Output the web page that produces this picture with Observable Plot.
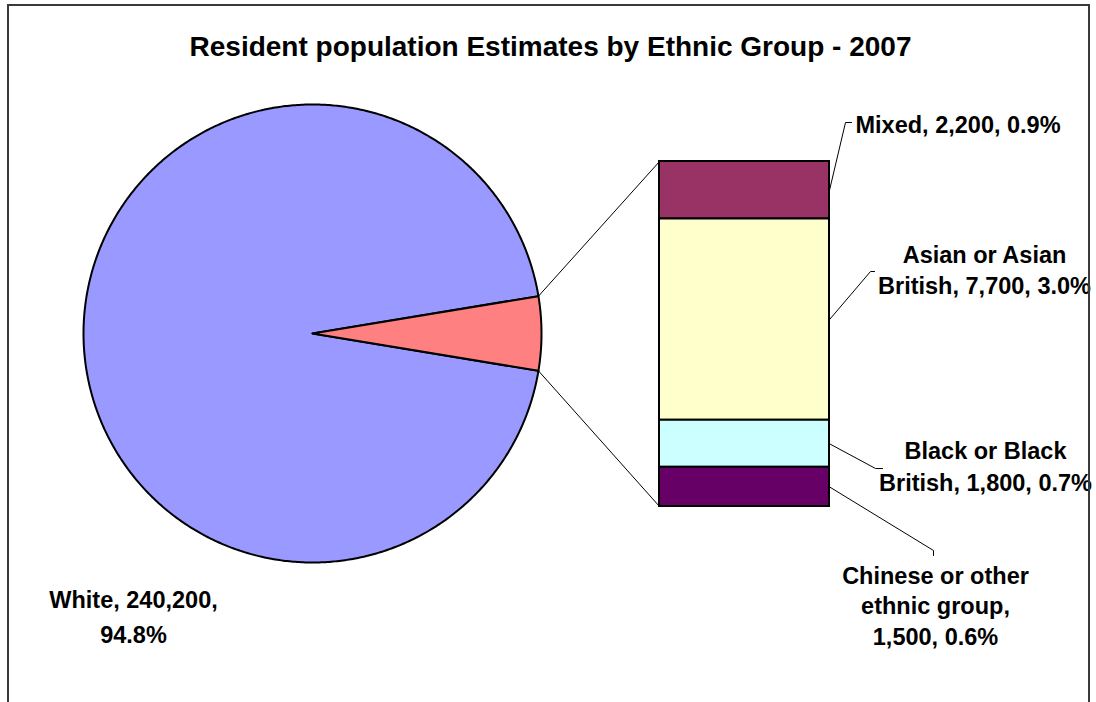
<!DOCTYPE html>
<html><head><meta charset="utf-8">
<script src="https://cdn.jsdelivr.net/npm/d3@7"></script>
<script src="https://cdn.jsdelivr.net/npm/@observablehq/plot@0.6"></script>
<style>
body{margin:0;background:#fff;}
#wrap{position:relative;width:1096px;height:702px;overflow:hidden;}
#frame{position:absolute;left:7px;top:4px;width:1079px;height:760px;border:2px solid #3a3a3a;pointer-events:none;}
#wrap svg{position:absolute;left:0;top:0;}
</style></head><body><div id="wrap"><div id="frame"></div></div>
<script>
// ---- data ----
const title = "Resident population Estimates by Ethnic Group - 2007";
const groups = ["White", "Mixed", "Asian or Asian British", "Black or Black British", "Chinese or other ethnic group"];
const population = [240200, 2200, 7700, 1800, 1500];
const percent = [94.8, 0.9, 3.0, 0.7, 0.6];
const labelText = [
  "White, 240,200,\n94.8%",
  "Mixed, 2,200, 0.9%",
  "Asian or Asian\nBritish, 7,700, 3.0%",
  "Black or Black\nBritish, 1,800, 0.7%",
  "Chinese or other\nethnic group,\n1,500, 0.6%"
];
const colors = ["#9999FF", "#993366", "#FFFFCC", "#CCFFFF", "#660066", "#FF8080"];
const otherName = "Other";

// ---- layout ----
const W = 1096, H = 702;
const pie = {cx: 312, cy: 333, r: 229};
const bar = {x1: 659, x2: 829, top: 161, bottom: 506};
const FONT = "Liberation Sans, Arial, Helvetica, sans-serif";
const labelPos = [
  {x: 133, y: 642, anchor: "middle", lh: 35},
  {x: 855, y: 132, anchor: "start", lh: 30},
  {x: 984, y: 293, anchor: "middle", lh: 31},
  {x: 985, y: 490, anchor: "middle", lh: 32},
  {x: 935, y: 644, anchor: "middle", lh: 30.5}
];
const leaderElbows = [
  null,
  [[845, 122], [851, 122]],
  [[870, 271], [874, 271]],
  [[875, 468], [882, 468]],
  [[933, 550], [933, 555]]
];

// ---- geometry from data ----
const total = d3.sum(population);
const otherTotal = d3.sum(population.slice(1));
const otherAngle = 2 * Math.PI * otherTotal / total;
const slices = [
  {group: groups[0], a0: otherAngle / 2, a1: 2 * Math.PI - otherAngle / 2},
  {group: otherName, a0: -otherAngle / 2, a1: otherAngle / 2}
];
const pt = a => [pie.cx + pie.r * Math.cos(a), pie.cy + pie.r * Math.sin(a)];
const piePts = [];
for (const s of slices) {
  piePts.push({group: s.group, x: pie.cx, y: pie.cy});
  const n = Math.max(2, Math.ceil((s.a1 - s.a0) / (Math.PI / 360)));
  for (let i = 0; i <= n; i++) {
    const [x, y] = pt(s.a0 + (s.a1 - s.a0) * i / n);
    piePts.push({group: s.group, x, y});
  }
}
const k = (bar.bottom - bar.top) / otherTotal;
let acc = bar.top;
const barData = groups.slice(1).map((g, i) => {
  const y1 = acc, y2 = acc + population[i + 1] * k;
  acc = y2;
  return {group: g, y1, y2, mid: (y1 + y2) / 2};
});
const [tx, ty] = pt(-otherAngle / 2), [bx, by] = pt(otherAngle / 2);
const connectors = [
  {id: "top", x: tx, y: ty}, {id: "top", x: bar.x1, y: bar.top},
  {id: "bot", x: bx, y: by}, {id: "bot", x: bar.x1, y: bar.bottom}
];
const leaders = [];
barData.forEach((b, i) => {
  leaders.push({id: b.group, x: bar.x2, y: b.mid});
  for (const [x, y] of leaderElbows[i + 1]) leaders.push({id: b.group, x, y});
});

const labelMarks = labelText.map((t, i) => Plot.text([t], {
  x: () => labelPos[i].x, y: () => labelPos[i].y, text: d => d,
  textAnchor: labelPos[i].anchor, lineAnchor: "bottom", lineHeight: labelPos[i].lh / 23.5,
  fontSize: 23.5, fontWeight: "bold", fill: "#000", fontFamily: FONT
}));

const chart = Plot.plot({
  width: W, height: H, margin: 0,
  x: {domain: [0, W], range: [0, W], axis: null},
  y: {domain: [0, H], range: [0, H], axis: null},
  color: {domain: [...groups, otherName], range: colors},
  style: {fontFamily: FONT, background: "transparent", overflow: "visible"},
  marks: [
    Plot.line(piePts, {x: "x", y: "y", z: "group", fill: "group", stroke: "#000", strokeWidth: 2, curve: "linear-closed"}),
    Plot.line(connectors, {x: "x", y: "y", z: "id", stroke: "#000", strokeWidth: 1}),
    Plot.rect(barData, {x1: () => bar.x1, x2: () => bar.x2, y1: "y1", y2: "y2", fill: "group", stroke: "#000", strokeWidth: 2}),
    Plot.line(leaders, {x: "x", y: "y", z: "id", stroke: "#000", strokeWidth: 1}),
    Plot.text([title], {x: () => 550, y: () => 55, text: d => d, lineAnchor: "bottom", fontSize: 28, fontWeight: "bold", fill: "#000", fontFamily: FONT}),
    ...labelMarks
  ]
});
document.getElementById("wrap").insertBefore(chart, document.getElementById("frame"));
</script></body></html>
